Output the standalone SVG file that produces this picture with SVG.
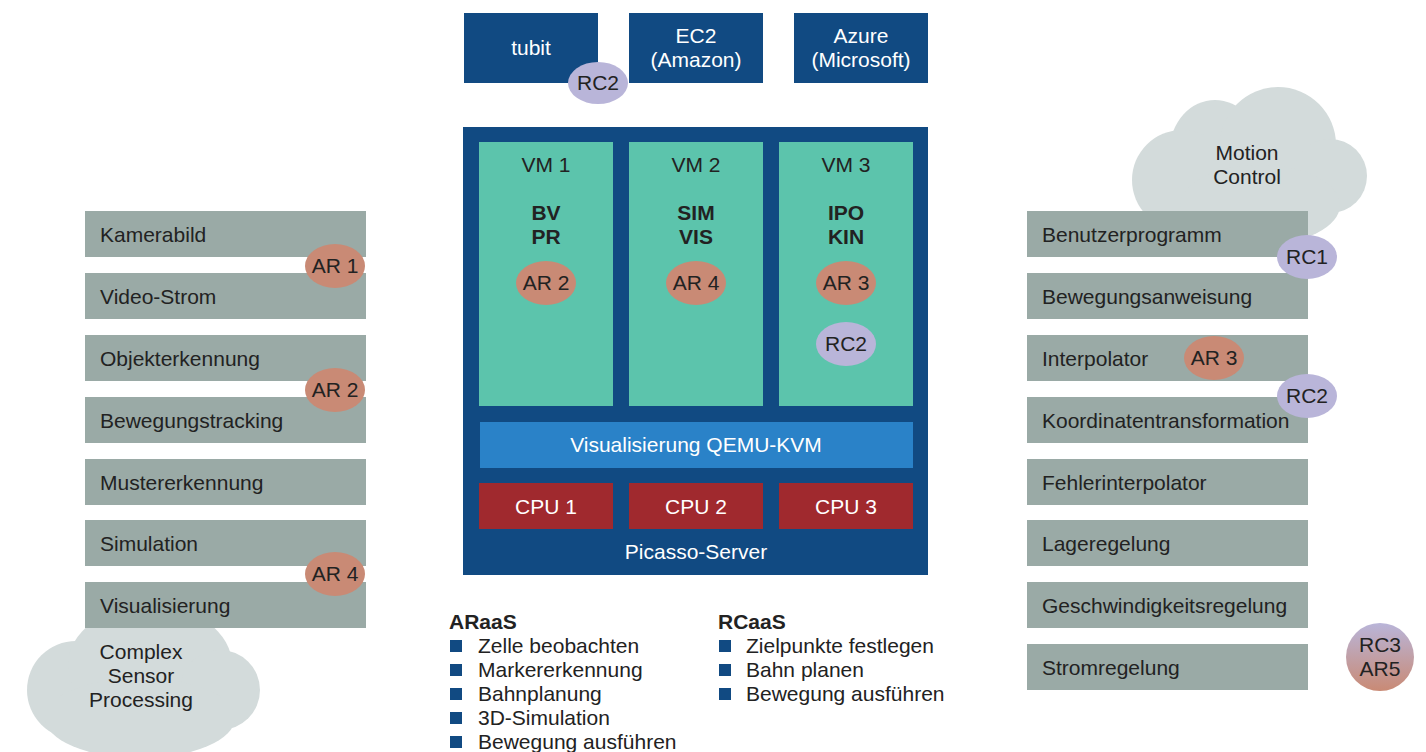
<svg xmlns="http://www.w3.org/2000/svg" width="1426" height="752" viewBox="0 0 1426 752">
<style>
text{font-family:"Liberation Sans",Arial,sans-serif;font-size:21px;fill:#222}
.c{text-anchor:middle}
.w{fill:#fff}
.b{font-weight:bold}
.dk{fill:#114a82}
.vm{fill:#5cc4ac}
.cpu{fill:#a0292e}
.g{fill:#9aaaa6}
.cl{fill:#d3dbdb}
.ar{fill:#c98a75}
.rc{fill:#b9b5d9}
</style>
<defs>
<linearGradient id="mix" x1="0" y1="0" x2="0" y2="1">
<stop offset="0" stop-color="#b9b5d9"/>
<stop offset="1" stop-color="#c98a75"/>
</linearGradient>
</defs>
<g id="cloud-motion" class="cl">
<ellipse cx="1215" cy="150" rx="45" ry="50"/>
<ellipse cx="1278" cy="145" rx="58" ry="58"/>
<circle cx="1330" cy="176" r="37"/>
<circle cx="1182" cy="180" r="50"/>
<ellipse cx="1260" cy="205" rx="80" ry="40"/>
</g>
<g id="cloud-sensor" class="cl">
<circle cx="76" cy="690" r="49"/>
<ellipse cx="150" cy="665" rx="82" ry="60"/>
<circle cx="220" cy="690" r="40"/>
<ellipse cx="140" cy="718" rx="95" ry="40"/>
</g>
<g id="tubit"><rect class="dk" x="464" y="13" width="134" height="70"/><text class="c w" x="531" y="55">tubit</text></g>
<g id="ec2"><rect class="dk" x="629" y="13" width="134" height="70"/><text class="c w" x="696" y="43">EC2</text><text class="c w" x="696" y="67">(Amazon)</text></g>
<g id="azure"><rect class="dk" x="794" y="13" width="134" height="70"/><text class="c w" x="861" y="43">Azure</text><text class="c w" x="861" y="67">(Microsoft)</text></g>
<g id="rc2-top"><ellipse class="rc" cx="598" cy="83" rx="30" ry="21"/><text class="c" x="598" y="90">RC2</text></g>
<g id="server">
<rect class="dk" x="463" y="127" width="465" height="448"/>
<rect class="vm" x="479" y="142" width="134" height="264"/>
<rect class="vm" x="629" y="142" width="134" height="264"/>
<rect class="vm" x="779" y="142" width="134" height="264"/>
<text class="c" x="546" y="172">VM 1</text>
<text class="c" x="696" y="172">VM 2</text>
<text class="c" x="846" y="172">VM 3</text>
<text class="c b" x="546" y="220">BV</text><text class="c b" x="546" y="244">PR</text>
<text class="c b" x="696" y="220">SIM</text><text class="c b" x="696" y="244">VIS</text>
<text class="c b" x="846" y="220">IPO</text><text class="c b" x="846" y="244">KIN</text>
<ellipse class="ar" cx="546" cy="283" rx="30" ry="22"/><text class="c" x="546" y="290">AR 2</text>
<ellipse class="ar" cx="696" cy="283" rx="30" ry="22"/><text class="c" x="696" y="290">AR 4</text>
<ellipse class="ar" cx="846" cy="283" rx="30" ry="22"/><text class="c" x="846" y="290">AR 3</text>
<ellipse class="rc" cx="846" cy="344" rx="30" ry="22"/><text class="c" x="846" y="351">RC2</text>
<rect x="480" y="422" width="433" height="46" fill="#2a82c8"/>
<text class="c w" x="696" y="452">Visualisierung QEMU-KVM</text>
<rect class="cpu" x="479" y="483" width="134" height="46"/><text class="c w" x="546" y="514">CPU 1</text>
<rect class="cpu" x="629" y="483" width="134" height="46"/><text class="c w" x="696" y="514">CPU 2</text>
<rect class="cpu" x="779" y="483" width="134" height="46"/><text class="c w" x="846" y="514">CPU 3</text>
<text class="c w" x="696" y="559">Picasso-Server</text>
</g>
<g id="left">
<rect class="g" x="85" y="211" width="281" height="46"/><text x="100" y="242">Kamerabild</text>
<rect class="g" x="85" y="273" width="281" height="46"/><text x="100" y="304">Video-Strom</text>
<rect class="g" x="85" y="335" width="281" height="46"/><text x="100" y="366">Objekterkennung</text>
<rect class="g" x="85" y="397" width="281" height="46"/><text x="100" y="428">Bewegungstracking</text>
<rect class="g" x="85" y="459" width="281" height="46"/><text x="100" y="490">Mustererkennung</text>
<rect class="g" x="85" y="520" width="281" height="46"/><text x="100" y="551">Simulation</text>
<rect class="g" x="85" y="582" width="281" height="46"/><text x="100" y="613">Visualisierung</text>
</g>
<g id="left-badges">
<ellipse class="ar" cx="335" cy="266" rx="30" ry="22"/><text class="c" x="335" y="273">AR 1</text>
<ellipse class="ar" cx="335" cy="390" rx="30" ry="22"/><text class="c" x="335" y="397">AR 2</text>
<ellipse class="ar" cx="335" cy="574" rx="30" ry="22"/><text class="c" x="335" y="581">AR 4</text>
</g>
<g id="right">
<rect class="g" x="1027" y="211" width="281" height="46"/><text x="1042" y="242">Benutzerprogramm</text>
<rect class="g" x="1027" y="273" width="281" height="46"/><text x="1042" y="304">Bewegungsanweisung</text>
<rect class="g" x="1027" y="335" width="281" height="46"/><text x="1042" y="366">Interpolator</text>
<rect class="g" x="1027" y="397" width="281" height="46"/><text x="1042" y="428">Koordinatentransformation</text>
<rect class="g" x="1027" y="459" width="281" height="46"/><text x="1042" y="490">Fehlerinterpolator</text>
<rect class="g" x="1027" y="520" width="281" height="46"/><text x="1042" y="551">Lageregelung</text>
<rect class="g" x="1027" y="582" width="281" height="46"/><text x="1042" y="613">Geschwindigkeitsregelung</text>
<rect class="g" x="1027" y="644" width="281" height="46"/><text x="1042" y="675">Stromregelung</text>
</g>
<g id="right-badges">
<ellipse class="rc" cx="1307" cy="257" rx="30" ry="22"/><text class="c" x="1307" y="264">RC1</text>
<ellipse class="ar" cx="1214" cy="358" rx="30" ry="22"/><text class="c" x="1214" y="365">AR 3</text>
<ellipse class="rc" cx="1307" cy="396" rx="30" ry="22"/><text class="c" x="1307" y="403">RC2</text>
<circle cx="1380" cy="657" r="34" fill="url(#mix)"/>
<text class="c" x="1380" y="652">RC3</text><text class="c" x="1380" y="676">AR5</text>
</g>
<g id="cloud-labels">
<text class="c" x="1247" y="160">Motion</text><text class="c" x="1247" y="184">Control</text>
<text class="c" x="141" y="659">Complex</text><text class="c" x="141" y="683">Sensor</text><text class="c" x="141" y="707">Processing</text>
</g>
<g id="legend">
<text class="b" x="449" y="629">ARaaS</text>
<g class="dk"><rect x="450" y="640" width="12" height="12"/><rect x="450" y="664" width="12" height="12"/><rect x="450" y="688" width="12" height="12"/><rect x="450" y="712" width="12" height="12"/><rect x="450" y="736" width="12" height="12"/></g>
<text x="478" y="653">Zelle beobachten</text>
<text x="478" y="677">Markererkennung</text>
<text x="478" y="701">Bahnplanung</text>
<text x="478" y="725">3D-Simulation</text>
<text x="478" y="749">Bewegung ausführen</text>
<text class="b" x="718" y="629">RCaaS</text>
<g class="dk"><rect x="719" y="640" width="12" height="12"/><rect x="719" y="664" width="12" height="12"/><rect x="719" y="688" width="12" height="12"/></g>
<text x="746" y="653">Zielpunkte festlegen</text>
<text x="746" y="677">Bahn planen</text>
<text x="746" y="701">Bewegung ausführen</text>
</g>
</svg>
